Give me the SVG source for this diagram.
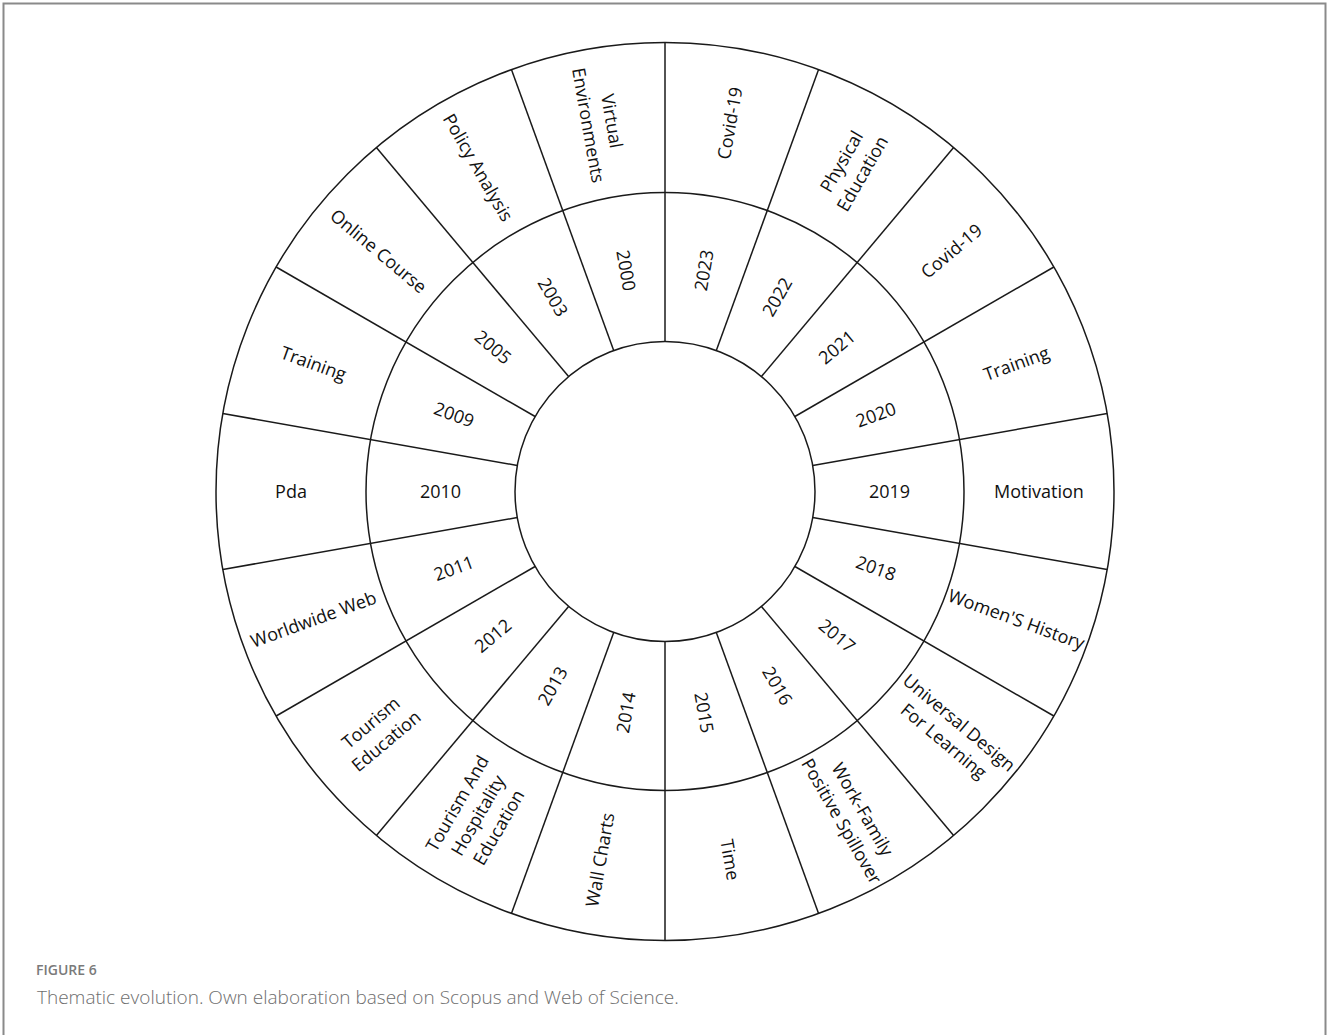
<svg xmlns="http://www.w3.org/2000/svg" width="1327" height="1035" viewBox="0 0 1327 1035">
<style>
.ring{fill:none;stroke:#1a1a1a;stroke-width:1.5}
.spoke{stroke:#1a1a1a;stroke-width:1.5}
.lbl{font-family:"Open Sans","Noto Sans",sans-serif;font-size:18px;fill:#111;text-anchor:middle}
.fig{font-family:"Open Sans","Noto Sans",sans-serif;font-size:14px;fill:#7a7a7a;font-weight:600}
.cap{font-family:"Open Sans","Noto Sans",sans-serif;font-size:19px;fill:#6e6e6e;font-weight:300}
</style>
<rect x="0" y="0" width="1327" height="1035" fill="#fff"/>
<rect x="3.5" y="3.5" width="1322" height="1045" fill="none" stroke="#8a8a8a" stroke-width="2"/>
<g id="connectors">
<circle class="ring" cx="665" cy="491.5" r="449"/>
<circle class="ring" cx="665" cy="491.5" r="299"/>
<circle class="ring" cx="665" cy="491.5" r="150"/>
<line class="spoke" x1="665" y1="341.5" x2="665" y2="42.5" transform="rotate(0 665 491.5)"/>
<line class="spoke" x1="665" y1="341.5" x2="665" y2="42.5" transform="rotate(20 665 491.5)"/>
<line class="spoke" x1="665" y1="341.5" x2="665" y2="42.5" transform="rotate(40 665 491.5)"/>
<line class="spoke" x1="665" y1="341.5" x2="665" y2="42.5" transform="rotate(60 665 491.5)"/>
<line class="spoke" x1="665" y1="341.5" x2="665" y2="42.5" transform="rotate(80 665 491.5)"/>
<line class="spoke" x1="665" y1="341.5" x2="665" y2="42.5" transform="rotate(100 665 491.5)"/>
<line class="spoke" x1="665" y1="341.5" x2="665" y2="42.5" transform="rotate(120 665 491.5)"/>
<line class="spoke" x1="665" y1="341.5" x2="665" y2="42.5" transform="rotate(140 665 491.5)"/>
<line class="spoke" x1="665" y1="341.5" x2="665" y2="42.5" transform="rotate(160 665 491.5)"/>
<line class="spoke" x1="665" y1="341.5" x2="665" y2="42.5" transform="rotate(180 665 491.5)"/>
<line class="spoke" x1="665" y1="341.5" x2="665" y2="42.5" transform="rotate(200 665 491.5)"/>
<line class="spoke" x1="665" y1="341.5" x2="665" y2="42.5" transform="rotate(220 665 491.5)"/>
<line class="spoke" x1="665" y1="341.5" x2="665" y2="42.5" transform="rotate(240 665 491.5)"/>
<line class="spoke" x1="665" y1="341.5" x2="665" y2="42.5" transform="rotate(260 665 491.5)"/>
<line class="spoke" x1="665" y1="341.5" x2="665" y2="42.5" transform="rotate(280 665 491.5)"/>
<line class="spoke" x1="665" y1="341.5" x2="665" y2="42.5" transform="rotate(300 665 491.5)"/>
<line class="spoke" x1="665" y1="341.5" x2="665" y2="42.5" transform="rotate(320 665 491.5)"/>
<line class="spoke" x1="665" y1="341.5" x2="665" y2="42.5" transform="rotate(340 665 491.5)"/>
</g>
<g id="seg-2023">
<text class="lbl" transform="translate(665 491.5) rotate(-80) translate(224.5 0)" y="6.3">2023</text>
<text class="lbl" transform="translate(665 491.5) rotate(-80) translate(374 0)" y="6.3">Covid-19</text>
</g>
<g id="seg-2022">
<text class="lbl" transform="translate(665 491.5) rotate(-60) translate(224.5 0)" y="6.3">2022</text>
<text class="lbl" transform="translate(665 491.5) rotate(-60) translate(374 0)"><tspan x="0" y="-5.7">Physical</tspan><tspan x="0" y="18.3">Education</tspan></text>
</g>
<g id="seg-2021">
<text class="lbl" transform="translate(665 491.5) rotate(-40) translate(224.5 0)" y="6.3">2021</text>
<text class="lbl" transform="translate(665 491.5) rotate(-40) translate(374 0)" y="6.3">Covid-19</text>
</g>
<g id="seg-2020">
<text class="lbl" transform="translate(665 491.5) rotate(-20) translate(224.5 0)" y="6.3">2020</text>
<text class="lbl" transform="translate(665 491.5) rotate(-20) translate(374 0)" y="6.3">Training</text>
</g>
<g id="seg-2019">
<text class="lbl" transform="translate(665 491.5) rotate(0) translate(224.5 0)" y="6.3">2019</text>
<text class="lbl" transform="translate(665 491.5) rotate(0) translate(374 0)" y="6.3">Motivation</text>
</g>
<g id="seg-2018">
<text class="lbl" transform="translate(665 491.5) rotate(20) translate(224.5 0)" y="6.3">2018</text>
<text class="lbl" transform="translate(665 491.5) rotate(20) translate(374 0)" y="6.3">Women'S History</text>
</g>
<g id="seg-2017">
<text class="lbl" transform="translate(665 491.5) rotate(40) translate(224.5 0)" y="6.3">2017</text>
<text class="lbl" transform="translate(665 491.5) rotate(40) translate(374 0)"><tspan x="0" y="-5.7">Universal Design</tspan><tspan x="0" y="18.3">For Learning</tspan></text>
</g>
<g id="seg-2016">
<text class="lbl" transform="translate(665 491.5) rotate(60) translate(224.5 0)" y="6.3">2016</text>
<text class="lbl" transform="translate(665 491.5) rotate(60) translate(374 0)"><tspan x="0" y="-5.7">Work-Family</tspan><tspan x="0" y="18.3">Positive Spillover</tspan></text>
</g>
<g id="seg-2015">
<text class="lbl" transform="translate(665 491.5) rotate(80) translate(224.5 0)" y="6.3">2015</text>
<text class="lbl" transform="translate(665 491.5) rotate(80) translate(374 0)" y="6.3">Time</text>
</g>
<g id="seg-2014">
<text class="lbl" transform="translate(665 491.5) rotate(-80) translate(-224.5 0)" y="6.3">2014</text>
<text class="lbl" transform="translate(665 491.5) rotate(-80) translate(-374 0)" y="6.3">Wall Charts</text>
</g>
<g id="seg-2013">
<text class="lbl" transform="translate(665 491.5) rotate(-60) translate(-224.5 0)" y="6.3">2013</text>
<text class="lbl" transform="translate(665 491.5) rotate(-60) translate(-374 0)"><tspan x="0" y="-17.7">Tourism And</tspan><tspan x="0" y="6.3">Hospitality</tspan><tspan x="0" y="30.3">Education</tspan></text>
</g>
<g id="seg-2012">
<text class="lbl" transform="translate(665 491.5) rotate(-40) translate(-224.5 0)" y="6.3">2012</text>
<text class="lbl" transform="translate(665 491.5) rotate(-40) translate(-374 0)"><tspan x="0" y="-5.7">Tourism</tspan><tspan x="0" y="18.3">Education</tspan></text>
</g>
<g id="seg-2011">
<text class="lbl" transform="translate(665 491.5) rotate(-20) translate(-224.5 0)" y="6.3">2011</text>
<text class="lbl" transform="translate(665 491.5) rotate(-20) translate(-374 0)" y="6.3">Worldwide Web</text>
</g>
<g id="seg-2010">
<text class="lbl" transform="translate(665 491.5) rotate(0) translate(-224.5 0)" y="6.3">2010</text>
<text class="lbl" transform="translate(665 491.5) rotate(0) translate(-374 0)" y="6.3">Pda</text>
</g>
<g id="seg-2009">
<text class="lbl" transform="translate(665 491.5) rotate(20) translate(-224.5 0)" y="6.3">2009</text>
<text class="lbl" transform="translate(665 491.5) rotate(20) translate(-374 0)" y="6.3">Training</text>
</g>
<g id="seg-2005">
<text class="lbl" transform="translate(665 491.5) rotate(40) translate(-224.5 0)" y="6.3">2005</text>
<text class="lbl" transform="translate(665 491.5) rotate(40) translate(-374 0)" y="6.3">Online Course</text>
</g>
<g id="seg-2003">
<text class="lbl" transform="translate(665 491.5) rotate(60) translate(-224.5 0)" y="6.3">2003</text>
<text class="lbl" transform="translate(665 491.5) rotate(60) translate(-374 0)" y="6.3">Policy Analysis</text>
</g>
<g id="seg-2000">
<text class="lbl" transform="translate(665 491.5) rotate(80) translate(-224.5 0)" y="6.3">2000</text>
<text class="lbl" transform="translate(665 491.5) rotate(80) translate(-374 0)"><tspan x="0" y="-5.7">Virtual</tspan><tspan x="0" y="18.3">Environments</tspan></text>
</g>
<g id="caption">
<text class="fig" x="36" y="975">FIGURE 6</text>
<text class="cap" x="37" y="1004">Thematic evolution. Own elaboration based on Scopus and Web of Science.</text>
</g>
</svg>
